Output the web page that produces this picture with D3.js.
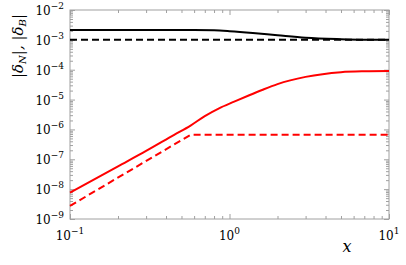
<!DOCTYPE html>
<html>
<head>
<meta charset="utf-8">
<script src="https://cdn.jsdelivr.net/npm/d3@7"></script>
<style>
  body { margin: 0; background: #fff; }
  svg { display: block; }
  text { font-family: "DejaVu Serif", serif; }
</style>
</head>
<body>
<div id="chart"></div>
<script>
// data
let redSolidX = [0.1, 0.2, 0.3, 0.45, 0.57, 0.7, 0.86, 1.07, 1.33, 1.6, 2.0, 3.0, 5.0, 7.0, 10];
let redSolidY = [7.6e-9, 5.8e-8, 1.9e-7, 6.6e-7, 1.35e-6, 2.8e-6, 5.1e-6, 8.5e-6, 1.4e-5, 2.1e-5, 3.3e-5, 5.75e-5, 8.3e-5, 8.9e-5, 9.1e-5];
let redDashX = [0.1, 0.57, 10];
let redDashY = [2.75e-9, 6.6e-7, 6.6e-7];
let blackSolidX = [0.1, 0.6, 0.8, 1.0, 1.4, 2.0, 3.0, 5.0, 7.0, 10];
let blackSolidY = [2.14e-3, 2.13e-3, 2.08e-3, 1.95e-3, 1.7e-3, 1.42e-3, 1.17e-3, 1.05e-3, 1.01e-3, 1.0e-3];
let blackDashX = [0.1, 10];
let blackDashY = [1e-3, 1e-3];
let xExps = [-1, 0, 1];
let yExps = [-9, -8, -7, -6, -5, -4, -3, -2];

let width = 406, height = 265;
let padL = 70, padR = 389, padT = 10, padB = 219;
let frameColor = "#a0a0a0";

let svg = d3.select("#chart").append("svg")
    .attr("width", width)
    .attr("height", height);

let x = d3.scaleLog().domain([0.1, 10]).range([padL, padR]);
let y = d3.scaleLog().domain([1e-9, 1e-2]).range([padB, padT]);

// minor ticks 2..9 inside each decade
function minors(lo, hi) {
    let out = [];
    for (let e = lo; e < hi; e++)
        for (let k = 2; k <= 9; k++) out.push(k * Math.pow(10, e));
    return out;
}
let xMajor = xExps.map(e => Math.pow(10, e));
let yMajor = yExps.map(e => Math.pow(10, e));
let xMinor = minors(-1, 1);
let yMinor = minors(-9, -2);

function styleAxis(g) {
    g.select(".domain").remove();
    g.selectAll("line").attr("stroke", frameColor).attr("stroke-width", 1);
    g.selectAll("text").remove();
}

// ticks pointing inwards on all four sides
svg.append("g").attr("transform", `translate(0,${padB})`)
    .call(d3.axisBottom(x).tickValues(xMajor).tickSize(-5)).call(styleAxis);
svg.append("g").attr("transform", `translate(0,${padB})`)
    .call(d3.axisBottom(x).tickValues(xMinor).tickSize(-3)).call(styleAxis);
svg.append("g").attr("transform", `translate(0,${padT})`)
    .call(d3.axisTop(x).tickValues(xMajor).tickSize(-5)).call(styleAxis);
svg.append("g").attr("transform", `translate(0,${padT})`)
    .call(d3.axisTop(x).tickValues(xMinor).tickSize(-3)).call(styleAxis);
svg.append("g").attr("transform", `translate(${padL},0)`)
    .call(d3.axisLeft(y).tickValues(yMajor).tickSize(-5)).call(styleAxis);
svg.append("g").attr("transform", `translate(${padL},0)`)
    .call(d3.axisLeft(y).tickValues(yMinor).tickSize(-3)).call(styleAxis);
svg.append("g").attr("transform", `translate(${padR},0)`)
    .call(d3.axisRight(y).tickValues(yMajor).tickSize(-5)).call(styleAxis);
svg.append("g").attr("transform", `translate(${padR},0)`)
    .call(d3.axisRight(y).tickValues(yMinor).tickSize(-3)).call(styleAxis);

// frame
svg.append("rect")
    .attr("x", padL).attr("y", padT)
    .attr("width", padR - padL).attr("height", padB - padT)
    .attr("fill", "none").attr("stroke", frameColor).attr("stroke-width", 1);

// power-of-ten labels
function powLabel(sel, e) {
    sel.append("tspan").text("10");
    sel.append("tspan").attr("dy", -6).attr("font-size", 9)
        .text(e < 0 ? "\u2212" + (-e) : String(e));
}
xExps.forEach(e => {
    svg.append("text")
        .attr("x", x(Math.pow(10, e))).attr("y", padB + 21)
        .attr("text-anchor", "middle")
        .attr("font-size", 12)
        .call(powLabel, e);
});
yExps.forEach(e => {
    svg.append("text")
        .attr("x", padL - 6).attr("y", y(Math.pow(10, e)) + 5)
        .attr("text-anchor", "end")
        .attr("font-size", 12)
        .call(powLabel, e);
});

// axis titles
svg.append("text")
    .attr("x", 347).attr("y", 252)
    .attr("text-anchor", "middle")
    .attr("font-size", 16).attr("font-style", "italic")
    .text("x");

let yTitle = svg.append("text")
    .attr("transform", "translate(23,46) rotate(-90)")
    .attr("text-anchor", "middle")
    .attr("font-size", 15).attr("font-style", "italic");
yTitle.append("tspan").text("|\u03b4");
yTitle.append("tspan").attr("font-size", 10).attr("dy", 3).text("N");
yTitle.append("tspan").attr("dy", -3).text("|, |\u03b4");
yTitle.append("tspan").attr("font-size", 10).attr("dy", 3).text("B");
yTitle.append("tspan").attr("dy", -3).text("|");

// curves
let line = d3.line()
    .x(d => x(d[0]))
    .y(d => y(d[1]))
    .curve(d3.curveMonotoneX);

let series = [
    {xs: blackSolidX, ys: blackSolidY, color: "#000", dash: null},
    {xs: blackDashX, ys: blackDashY, color: "#000", dash: "7,4"},
    {xs: redSolidX, ys: redSolidY, color: "#ff0000", dash: null},
    {xs: redDashX, ys: redDashY, color: "#ff0000", dash: "7,4"}
];
series.forEach(s => {
    svg.append("path")
        .datum(s.xs.map((v, i) => [v, s.ys[i]]))
        .attr("d", s.dash ? d3.line().x(d => x(d[0])).y(d => y(d[1])) : line)
        .attr("fill", "none")
        .attr("stroke", s.color)
        .attr("stroke-width", 2)
        .attr("stroke-dasharray", s.dash);
});
</script>
</body>
</html>
